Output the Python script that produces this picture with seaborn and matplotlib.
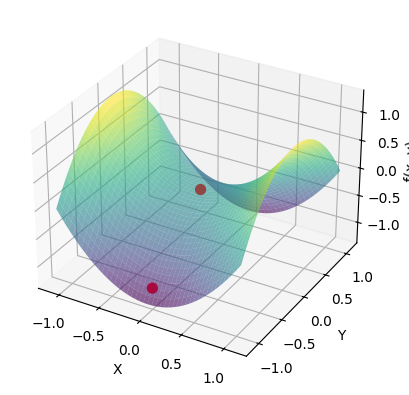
import numpy as np
import matplotlib
matplotlib.use('Agg')
import matplotlib.pyplot as plt
import seaborn as sns

grid_x = [-1.10, -1.05, -1.00, -0.95, -0.90, -0.85, -0.80, -0.75, -0.70, -0.65, -0.60, -0.55,
          -0.50, -0.45, -0.40, -0.35, -0.30, -0.25, -0.20, -0.15, -0.10, -0.05, 0.00,
          0.05, 0.10, 0.15, 0.20, 0.25, 0.30, 0.35, 0.40, 0.45, 0.50, 0.55, 0.60,
          0.65, 0.70, 0.75, 0.80, 0.85, 0.90, 0.95, 1.00, 1.05, 1.10]
grid_y = list(grid_x)

# heights for x <= 0, y <= 0, the other three quarters mirror them
quarter_heights = [
    [0, -.1075, -.21, -.3075, -.40, -.4875, -.57, -.6475, -.72, -.7875, -.85, -.9075, -.96, -1.0075, -1.05, -1.0875, -1.12, -1.1475, -1.17, -1.1875, -1.20, -1.2075, -1.21],
    [.1075, 0, -.1025, -.20, -.2925, -.38, -.4625, -.54, -.6125, -.68, -.7425, -.80, -.8525, -.90, -.9425, -.98, -1.0125, -1.04, -1.0625, -1.08, -1.0925, -1.10, -1.1025],
    [.21, .1025, 0, -.0975, -.19, -.2775, -.36, -.4375, -.51, -.5775, -.64, -.6975, -.75, -.7975, -.84, -.8775, -.91, -.9375, -.96, -.9775, -.99, -.9975, -1],
    [.3075, .20, .0975, 0, -.0925, -.18, -.2625, -.34, -.4125, -.48, -.5425, -.60, -.6525, -.70, -.7425, -.78, -.8125, -.84, -.8625, -.88, -.8925, -.90, -.9025],
    [.40, .2925, .19, .0925, 0, -.0875, -.17, -.2475, -.32, -.3875, -.45, -.5075, -.56, -.6075, -.65, -.6875, -.72, -.7475, -.77, -.7875, -.80, -.8075, -.81],
    [.4875, .38, .2775, .18, .0875, 0, -.0825, -.16, -.2325, -.30, -.3625, -.42, -.4725, -.52, -.5625, -.60, -.6325, -.66, -.6825, -.70, -.7125, -.72, -.7225],
    [.57, .4625, .36, .2625, .17, .0825, 0, -.0775, -.15, -.2175, -.28, -.3375, -.39, -.4375, -.48, -.5175, -.55, -.5775, -.60, -.6175, -.63, -.6375, -.64],
    [.6475, .54, .4375, .34, .2475, .16, .0775, 0, -.0725, -.14, -.2025, -.26, -.3125, -.36, -.4025, -.44, -.4725, -.50, -.5225, -.54, -.5525, -.56, -.5625],
    [.72, .6125, .51, .4125, .32, .2325, .15, .0725, 0, -.0675, -.13, -.1875, -.24, -.2875, -.33, -.3675, -.40, -.4275, -.45, -.4675, -.48, -.4875, -.49],
    [.7875, .68, .5775, .48, .3875, .30, .2175, .14, .0675, 0, -.0625, -.12, -.1725, -.22, -.2625, -.30, -.3325, -.36, -.3825, -.40, -.4125, -.42, -.4225],
    [.85, .7425, .64, .5425, .45, .3625, .28, .2025, .13, .0625, 0, -.0575, -.11, -.1575, -.20, -.2375, -.27, -.2975, -.32, -.3375, -.35, -.3575, -.36],
    [.9075, .80, .6975, .60, .5075, .42, .3375, .26, .1875, .12, .0575, 0, -.0525, -.10, -.1425, -.18, -.2125, -.24, -.2625, -.28, -.2925, -.30, -.3025],
    [.96, .8525, .75, .6525, .56, .4725, .39, .3125, .24, .1725, .11, .0525, 0, -.0475, -.09, -.1275, -.16, -.1875, -.21, -.2275, -.24, -.2475, -.25],
    [1.0075, .90, .7975, .70, .6075, .52, .4375, .36, .2875, .22, .1575, .10, .0475, 0, -.0425, -.08, -.1125, -.14, -.1625, -.18, -.1925, -.20, -.2025],
    [1.05, .9425, .84, .7425, .65, .5625, .48, .4025, .33, .2625, .20, .1425, .09, .0425, 0, -.0375, -.07, -.0975, -.12, -.1375, -.15, -.1575, -.16],
    [1.0875, .98, .8775, .78, .6875, .60, .5175, .44, .3675, .30, .2375, .18, .1275, .08, .0375, 0, -.0325, -.06, -.0825, -.10, -.1125, -.12, -.1225],
    [1.12, 1.0125, .91, .8125, .72, .6325, .55, .4725, .40, .3325, .27, .2125, .16, .1125, .07, .0325, 0, -.0275, -.05, -.0675, -.08, -.0875, -.09],
    [1.1475, 1.04, .9375, .84, .7475, .66, .5775, .50, .4275, .36, .2975, .24, .1875, .14, .0975, .06, .0275, 0, -.0225, -.04, -.0525, -.06, -.0625],
    [1.17, 1.0625, .96, .8625, .77, .6825, .60, .5225, .45, .3825, .32, .2625, .21, .1625, .12, .0825, .05, .0225, 0, -.0175, -.03, -.0375, -.04],
    [1.1875, 1.08, .9775, .88, .7875, .70, .6175, .54, .4675, .40, .3375, .28, .2275, .18, .1375, .10, .0675, .04, .0175, 0, -.0125, -.02, -.0225],
    [1.20, 1.0925, .99, .8925, .80, .7125, .63, .5525, .48, .4125, .35, .2925, .24, .1925, .15, .1125, .08, .0525, .03, .0125, 0, -.0075, -.01],
    [1.2075, 1.10, .9975, .90, .8075, .72, .6375, .56, .4875, .42, .3575, .30, .2475, .20, .1575, .12, .0875, .06, .0375, .02, .0075, 0, -.0025],
    [1.21, 1.1025, 1.0, .9025, .81, .7225, .64, .5625, .49, .4225, .36, .3025, .25, .2025, .16, .1225, .09, .0625, .04, .0225, .01, .0025, 0],
]

# the two red markers
point_x = [0.0, 0.0]
point_y = [0.0, -1.0]
point_z = [0.0, -1.0]

X, Y = np.meshgrid(grid_x, grid_y)
quarter = np.array(quarter_heights)
half = np.hstack([quarter, quarter[:, -2::-1]])
Z = np.vstack([half, half[-2::-1]])

fig = plt.figure(figsize=(4.1, 3.95), dpi=100)
ax = fig.add_axes([-0.022, 0.039, 0.998, 0.937], projection='3d')
ax.computed_zorder = False

ax.plot_surface(X, Y, Z, cmap=sns.color_palette('viridis', as_cmap=True), alpha=0.6,
                rstride=1, cstride=1, linewidth=0)
ax.scatter(point_x, point_y, point_z, c=['#8f4644', '#a80a40'], s=50, depthshade=False)

ax.set_xticks([-1.0, -0.5, 0.0, 0.5, 1.0])
ax.set_yticks([-1.0, -0.5, 0.0, 0.5, 1.0])
ax.set_zticks([-1.0, -0.5, 0.0, 0.5, 1.0])

ax.set_xlabel('X')
ax.set_ylabel('Y')
ax.set_zlabel('f(x, y)', labelpad=2)

fig.savefig('out.png', dpi=100)
